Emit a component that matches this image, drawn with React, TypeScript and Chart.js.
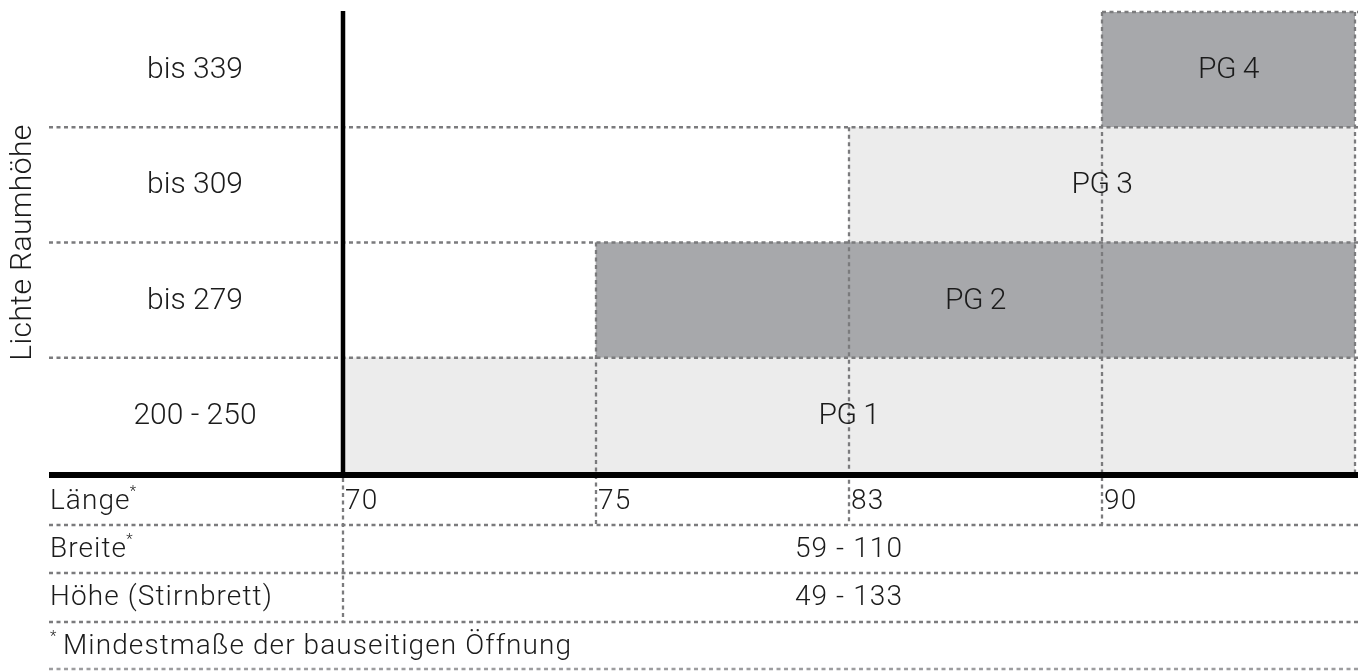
import React, { useEffect, useRef } from "react";
import { Chart, registerables } from "chart.js";

Chart.register(...registerables);

// ---- data ----
const heightRows = ["bis 339", "bis 309", "bis 279", "200 - 250"];
const lengthTicks = ["70", "75", "83", "90"];
const groupLabels = ["PG 4", "PG 3", "PG 2", "PG 1"];
const groupStartIndex = [3, 2, 1, 0];
const groupColors = ["#a7a8ab", "#ececec", "#a7a8ab", "#ececec"];
const yAxisTitle = "Lichte Raumhöhe";
const tableRowLabels = ["Länge", "Breite", "Höhe (Stirnbrett)"];
const tableRowStar = [true, true, false];
const breiteRange = "59 - 110";
const hoeheRange = "49 - 133";
const footnote = "Mindestmaße der bauseitigen Öffnung";

const W = 1358;
const H = 671;
const LINE = "#7b7b7d";
const TEXT = "#1b1b1b";
const LABEL_FONT = "300 30px Roboto, 'Liberation Sans', sans-serif";
const TABLE_FONT = "300 28px Roboto, 'Liberation Sans', sans-serif";
const PG_FONT = "300 30px Roboto, 'Liberation Sans', sans-serif";
const STAR_FONT = "300 15px Roboto, sans-serif";

const tableLines = [525, 573, 622, 669];
const tableCenters = [501, 549, 597, 646];

function dashed(
  ctx: CanvasRenderingContext2D,
  x1: number,
  y1: number,
  x2: number,
  y2: number,
  color: string = LINE
) {
  ctx.save();
  ctx.strokeStyle = color;
  ctx.lineWidth = 2.3;
  ctx.setLineDash([4, 3.5]);
  ctx.beginPath();
  ctx.moveTo(x1, y1);
  ctx.lineTo(x2, y2);
  ctx.stroke();
  ctx.restore();
}

const overlay = {
  id: "overlay",
  afterDatasetsDraw(chart: any) {
    const ctx: CanvasRenderingContext2D = chart.ctx;
    const area = chart.chartArea;
    const xs = chart.scales.x;
    const ys = chart.scales.y;
    const n = heightRows.length;
    const band = (area.bottom - area.top) / n;
    const leftEdge = 49;
    const rightEdge = W;

    // row boundaries
    for (let i = 1; i < n; i++) {
      const y = (ys.getPixelForValue(i - 1) + ys.getPixelForValue(i)) / 2;
      dashed(ctx, leftEdge, y, rightEdge, y);
    }
    // top of first bar
    const firstStart = xs.getPixelForValue(groupStartIndex[0]);
    dashed(ctx, firstStart, area.top, rightEdge, area.top);
    // right edge
    dashed(ctx, area.right, area.top, area.right, area.bottom);
    // vertical lines at group starts
    groupStartIndex.forEach((s, i) => {
      if (s === 0) return;
      const x = xs.getPixelForValue(s);
      const yTop = ys.getPixelForValue(i) - band / 2;
      dashed(ctx, x, yTop, x, tableLines[0]);
    });
    // axis continuation into table
    dashed(ctx, area.left, area.bottom + 5, area.left, tableLines[2]);
    // table horizontals
    tableLines.forEach((y, i) =>
      dashed(ctx, leftEdge, y, rightEdge, y, i === tableLines.length - 1 ? "#9d9d9f" : LINE)
    );

    // thick axes
    ctx.save();
    ctx.fillStyle = "#000";
    ctx.fillRect(area.left - 2.25, area.top - 1, 4.5, area.bottom - area.top + 6);
    ctx.fillRect(leftEdge, area.bottom - 1, rightEdge - leftEdge, 6);
    ctx.restore();

    // text
    ctx.save();
    ctx.fillStyle = TEXT;
    ctx.textBaseline = "middle";

    // PG labels
    ctx.font = PG_FONT;
    ctx.textAlign = "center";
    (ctx as any).letterSpacing = "-0.5px";
    groupLabels.forEach((lab, i) => {
      const x0 = xs.getPixelForValue(groupStartIndex[i]);
      const x1 = xs.getPixelForValue(lengthTicks.length);
      ctx.fillText(lab, (x0 + x1) / 2, ys.getPixelForValue(i) + 1);
    });
    (ctx as any).letterSpacing = "0px";

    // row labels
    ctx.font = LABEL_FONT;
    heightRows.forEach((lab, i) => {
      ctx.fillText(lab, 195, ys.getPixelForValue(i) + 1);
    });

    // rotated title
    ctx.save();
    ctx.translate(23, (area.top + area.bottom) / 2);
    ctx.rotate(-Math.PI / 2);
    ctx.textAlign = "center";
    (ctx as any).letterSpacing = "0.4px";
    ctx.fillText(yAxisTitle, 0, 0);
    (ctx as any).letterSpacing = "0px";
    ctx.restore();

    // table
    (ctx as any).letterSpacing = "1.1px";
    ctx.textAlign = "left";
    tableRowLabels.forEach((lab, i) => {
      ctx.font = TABLE_FONT;
      ctx.fillText(lab, 50, tableCenters[i] + 1);
      if (tableRowStar[i]) {
        const w = ctx.measureText(lab).width;
        ctx.font = STAR_FONT;
        ctx.fillText("*", 50 + w - 1, tableCenters[i] - 9);
      }
    });
    ctx.font = TABLE_FONT;
    lengthTicks.forEach((t, i) => {
      ctx.fillText(t, xs.getPixelForValue(i) + 2, tableCenters[0] + 1);
    });
    ctx.textAlign = "center";
    const mid = (area.left + area.right) / 2;
    ctx.fillText(breiteRange, mid, tableCenters[1] + 1);
    ctx.fillText(hoeheRange, mid, tableCenters[2] + 1);
    ctx.textAlign = "left";
    ctx.font = STAR_FONT;
    ctx.fillText("*", 50, tableCenters[3] - 9);
    ctx.font = TABLE_FONT;
    ctx.fillText(footnote, 63, tableCenters[3] + 1);
    (ctx as any).letterSpacing = "0px";
    ctx.restore();
  },
};

export default function App() {
  const ref = useRef<HTMLCanvasElement | null>(null);
  useEffect(() => {
    if (!ref.current) return;
    const bars = heightRows.map((_, i) => [groupStartIndex[i], lengthTicks.length]);
    const chart = new Chart(ref.current, {
      type: "bar",
      data: {
        labels: heightRows,
        datasets: [
          {
            data: bars as any,
            backgroundColor: groupColors,
            borderWidth: 0,
            barPercentage: 1,
            categoryPercentage: 1,
          },
        ],
      },
      options: {
        indexAxis: "y",
        responsive: false,
        animation: false,
        events: [],
        layout: { padding: { left: 343, right: 3, top: 12, bottom: H - 473 } },
        scales: {
          x: { type: "linear", min: 0, max: lengthTicks.length, display: false },
          y: { type: "category", display: false },
        },
        plugins: { legend: { display: false }, tooltip: { enabled: false } },
      },
      plugins: [overlay],
    });
    return () => chart.destroy();
  }, []);
  return (
    <div style={{ position: "absolute", left: 0, top: 0, width: W, height: H, background: "#fff" }}>
      <canvas ref={ref} width={W} height={H} style={{ display: "block" }} />
    </div>
  );
}
